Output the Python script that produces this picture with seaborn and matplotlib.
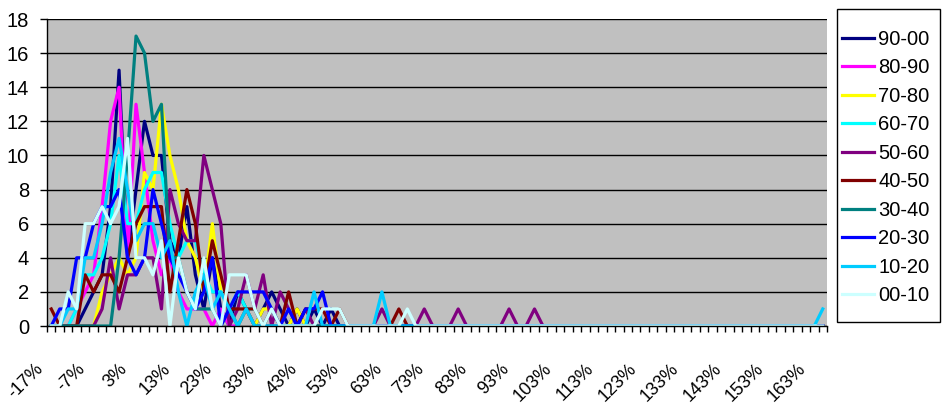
import numpy as np
import pandas as pd
import matplotlib
matplotlib.use("Agg")
import matplotlib.pyplot as plt
from matplotlib.ticker import FixedLocator, NullFormatter
from matplotlib.transforms import ScaledTranslation
from matplotlib.patches import Rectangle
import seaborn as sns

# return bins, 2% wide, starting at -17%
bins = list(range(-17, 167, 2))

s90_00 = [0, 0, 0, 0, 1, 2, 3, 7, 15, 4, 8, 12, 10, 10, 5, 4, 7, 3, 1, 4,
          1, 0, 2, 1, 0, 1, 2, 1, 0, 1, 0, 1, 0, 1, 0, 0, 0, 0, 0, 0,
          0, 0, 0, 0, 0, 0, 0, 0, 0, 0, 0, 0, 0, 0, 0, 0, 0, 0, 0, 0,
          0, 0, 0, 0, 0, 0, 0, 0, 0, 0, 0, 0, 0, 0, 0, 0, 0, 0, 0, 0,
          0, 0, 0, 0, 0, 0, 0, 0, 0, 0, 0, 0]
s80_90 = [0, 0, 0, 1, 2, 3, 7, 12, 14, 4, 13, 9, 5, 3, 4, 2, 1, 1, 1, 0,
          1, 0, 0, 1, 0, 0, 0, 0, 0, 0, 0, 0, 0, 0, 0, 0, 0, 0, 0, 0,
          0, 0, 0, 0, 0, 0, 0, 0, 0, 0, 0, 0, 0, 0, 0, 0, 0, 0, 0, 0,
          0, 0, 0, 0, 0, 0, 0, 0, 0, 0, 0, 0, 0, 0, 0, 0, 0, 0, 0, 0,
          0, 0, 0, 0, 0, 0, 0, 0, 0, 0, 0, 0]
s70_80 = [0, 0, 0, 0, 0, 0, 2, 3, 4, 3, 4, 9, 8, 13, 10, 8, 5, 4, 2, 6,
          2, 1, 0, 1, 0, 1, 1, 0, 0, 1, 0, 0, 0, 0, 0, 0, 0, 0, 0, 0,
          0, 0, 0, 0, 0, 0, 0, 0, 0, 0, 0, 0, 0, 0, 0, 0, 0, 0, 0, 0,
          0, 0, 0, 0, 0, 0, 0, 0, 0, 0, 0, 0, 0, 0, 0, 0, 0, 0, 0, 0,
          0, 0, 0, 0, 0, 0, 0, 0, 0, 0, 0, 0]
s60_70 = [0, 0, 0, 1, 3, 3, 4, 6, 10, 6, 6, 8, 9, 9, 6, 4, 5, 5, 3, 2,
          2, 1, 2, 1, 1, 0, 1, 0, 0, 0, 0, 0, 0, 0, 0, 0, 0, 0, 0, 0,
          0, 0, 0, 0, 0, 0, 0, 0, 0, 0, 0, 0, 0, 0, 0, 0, 0, 0, 0, 0,
          0, 0, 0, 0, 0, 0, 0, 0, 0, 0, 0, 0, 0, 0, 0, 0, 0, 0, 0, 0,
          0, 0, 0, 0, 0, 0, 0, 0, 0, 0, 0, 0]
s50_60 = [0, 0, 0, 0, 0, 0, 1, 4, 1, 3, 3, 4, 4, 1, 8, 6, 5, 5, 10, 8,
          6, 0, 1, 3, 1, 3, 0, 2, 1, 0, 1, 0, 0, 0, 0, 0, 0, 0, 0, 1,
          0, 0, 0, 0, 1, 0, 0, 0, 1, 0, 0, 0, 0, 0, 1, 0, 0, 1, 0, 0,
          0, 0, 0, 0, 0, 0, 0, 0, 0, 0, 0, 0, 0, 0, 0, 0, 0, 0, 0, 0,
          0, 0, 0, 0, 0, 0, 0, 0, 0, 0, 0, 0]
s40_50 = [1, 0, 0, 0, 3, 2, 3, 3, 2, 4, 6, 7, 7, 7, 2, 5, 8, 6, 2, 5,
          3, 1, 1, 1, 1, 0, 1, 0, 2, 0, 1, 1, 1, 0, 1, 0, 0, 0, 0, 0,
          0, 1, 0, 0, 0, 0, 0, 0, 0, 0, 0, 0, 0, 0, 0, 0, 0, 0, 0, 0,
          0, 0, 0, 0, 0, 0, 0, 0, 0, 0, 0, 0, 0, 0, 0, 0, 0, 0, 0, 0,
          0, 0, 0, 0, 0, 0, 0, 0, 0, 0, 0, 0]
s30_40 = [0, 0, 0, 0, 0, 0, 0, 0, 4, 10, 17, 16, 12, 13, 4, 4, 2, 1, 1, 1,
          0, 1, 0, 1, 0, 0, 0, 0, 0, 0, 0, 0, 0, 0, 0, 0, 0, 0, 0, 0,
          0, 0, 0, 0, 0, 0, 0, 0, 0, 0, 0, 0, 0, 0, 0, 0, 0, 0, 0, 0,
          0, 0, 0, 0, 0, 0, 0, 0, 0, 0, 0, 0, 0, 0, 0, 0, 0, 0, 0, 0,
          0, 0, 0, 0, 0, 0, 0, 0, 0, 0, 0, 0]
s20_30 = [0, 1, 1, 4, 4, 6, 7, 7, 8, 4, 3, 4, 8, 6, 4, 3, 2, 1, 2, 4,
          0, 1, 2, 2, 2, 2, 1, 0, 1, 0, 1, 1, 2, 0, 0, 0, 0, 0, 0, 0,
          0, 0, 0, 0, 0, 0, 0, 0, 0, 0, 0, 0, 0, 0, 0, 0, 0, 0, 0, 0,
          0, 0, 0, 0, 0, 0, 0, 0, 0, 0, 0, 0, 0, 0, 0, 0, 0, 0, 0, 0,
          0, 0, 0, 0, 0, 0, 0, 0, 0, 0, 0, 0]
s10_20 = [0, 0, 1, 1, 4, 4, 6, 9, 11, 8, 5, 6, 6, 4, 5, 2, 0, 2, 3, 1,
          2, 1, 0, 1, 0, 0, 0, 0, 0, 0, 0, 2, 0, 0, 0, 0, 0, 0, 0, 2,
          0, 0, 0, 0, 0, 0, 0, 0, 0, 0, 0, 0, 0, 0, 0, 0, 0, 0, 0, 0,
          0, 0, 0, 0, 0, 0, 0, 0, 0, 0, 0, 0, 0, 0, 0, 0, 0, 0, 0, 0,
          0, 0, 0, 0, 0, 0, 0, 0, 0, 0, 0, 1]
s00_10 = [0, 0, 2, 1, 6, 6, 7, 6, 7, 11, 4, 4, 3, 5, 0, 4, 2, 1, 4, 1,
          0, 3, 3, 3, 1, 0, 1, 0, 0, 0, 0, 0, 1, 1, 1, 0, 0, 0, 0, 0,
          0, 0, 1, 0, 0, 0, 0, 0, 0, 0, 0, 0, 0, 0, 0, 0, 0, 0, 0, 0,
          0, 0, 0, 0, 0, 0, 0, 0, 0, 0, 0, 0, 0, 0, 0, 0, 0, 0, 0, 0,
          0, 0, 0, 0, 0, 0, 0, 0, 0, 0, 0, 0]

series_names = ["90-00", "80-90", "70-80", "60-70", "50-60",
                "40-50", "30-40", "20-30", "10-20", "00-10"]
series_values = [s90_00, s80_90, s70_80, s60_70, s50_60,
                 s40_50, s30_40, s20_30, s10_20, s00_10]
colors = ["#000080", "#FF00FF", "#FFFF00", "#00FFFF", "#800080",
          "#800000", "#008080", "#0000FF", "#00CCFF", "#CCFFFF"]

rows = []
for name, vals in zip(series_names, series_values):
    for i, v in enumerate(vals):
        rows.append({"pos": i, "count": v, "series": name})
df = pd.DataFrame(rows)

plt.rcParams["font.family"] = ["Liberation Sans", "DejaVu Sans"]

fig = plt.figure(figsize=(9.45, 4.07), dpi=100)
ax = fig.add_axes([47 / 945, 1 - 326 / 407, 780 / 945, 307 / 407])
ax.set_facecolor("#C0C0C0")

sns.lineplot(data=df, x="pos", y="count", hue="series", hue_order=series_names,
             palette=colors, linewidth=2.3, ax=ax, legend=True)

n = len(bins)
ax.set_xlim(-0.5, n - 0.5)
ax.set_ylim(0, 18)
ax.set_yticks(range(0, 19, 2))
ax.yaxis.grid(True, color="black", linewidth=1)
ax.set_axisbelow(True)

# category labels every 5 bins, tick marks between bins
label_pos = list(range(0, n, 5))
ax.set_xticks(label_pos)
ax.xaxis.set_minor_locator(FixedLocator(np.arange(-0.5, n, 1)))
ax.xaxis.set_minor_formatter(NullFormatter())
ax.tick_params(axis="x", which="major", length=0, pad=0)
ax.tick_params(axis="x", which="minor", length=4.3, width=1, color="black", direction="out")
ax.tick_params(axis="y", length=5, width=1, color="black", direction="out", labelsize=14.5, pad=8)
ax.set_xticklabels([f"{bins[i]}%" for i in label_pos], rotation=45,
                   ha="right", va="top", rotation_mode="anchor", fontsize=13)
shift = ScaledTranslation(-17 / 100, -34 / 100, fig.dpi_scale_trans)
for lab in ax.get_xticklabels():
    lab.set_transform(lab.get_transform() + shift)

for side in ["top", "right"]:
    ax.spines[side].set_visible(False)
for side in ["left", "bottom"]:
    ax.spines[side].set_color("black")
    ax.spines[side].set_linewidth(1)

ax.set_xlabel("")
ax.set_ylabel("")

# legend box drawn separately, entries placed inside it
fig.patches.append(Rectangle((837 / 945, 1 - 322 / 407), 103 / 945, 313 / 407,
                             transform=fig.transFigure, facecolor="white",
                             edgecolor="black", linewidth=1, zorder=-1))
leg = ax.legend(loc="upper left", bbox_to_anchor=(842 / 945, 1 - 30 / 407),
                bbox_transform=fig.transFigure, frameon=False,
                fontsize=14.5, handlelength=1.6, handletextpad=0.2,
                labelspacing=0.47, borderpad=0, borderaxespad=0)
for line in leg.get_lines():
    line.set_linewidth(2.3)

fig.savefig("out.png", dpi=100)
